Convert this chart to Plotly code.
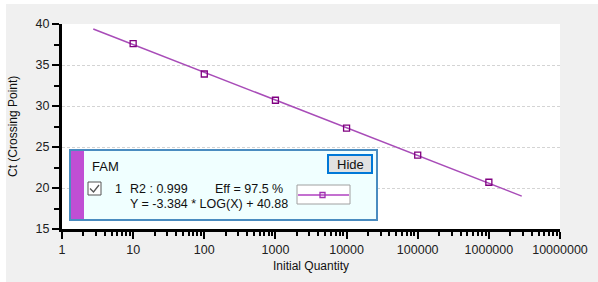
import plotly.graph_objects as go
import math

# ---- data ----
quantity = [10, 100, 1000, 10000, 100000, 1000000]
ct_values = [37.6, 33.9, 30.7, 27.3, 24.0, 20.7]
fit_slope = -3.384
fit_intercept = 40.88
fit_x = [2.75, 2.9e6]
x_tick_vals = [1, 10, 100, 1000, 10000, 100000, 1000000, 10000000]
x_tick_text = ["1", "10", "100", "1000", "10000", "100000", "1000000", "10000000"]
y_tick_vals = [15, 20, 25, 30, 35, 40]
x_title = "Initial Quantity"
y_title = "Ct (Crossing Point)"
legend_dye = "FAM"
legend_index = "1"
legend_r2 = "R2 : 0.999"
legend_eff = "Eff = 97.5 %"
legend_eq = "Y = -3.384 * LOG(X) + 40.88"
button_text = "Hide"

fit_y = [fit_slope * math.log10(v) + fit_intercept for v in fit_x]

W, H = 598, 282
L, R, T, B = 62, 38, 24, 53
PW, PH = W - L - R, H - T - B

def px(x):
    return (x - L) / PW

def py(y):
    return (H - B - y) / PH

FONT = "Liberation Sans"

fig = go.Figure()
fig.add_trace(go.Scatter(x=fit_x, y=fit_y, mode="lines",
                         line=dict(color="#a84cb8", width=1.5),
                         hoverinfo="skip", showlegend=False))
fig.add_trace(go.Scatter(x=quantity, y=ct_values, mode="markers",
                         marker=dict(symbol="square-open", size=6,
                                     color="#800080", line=dict(width=1.3)),
                         showlegend=False))

shapes = []
# white strips around the grey panel
shapes.append(dict(type="rect", xref="paper", yref="paper", x0=px(0), x1=px(W), y0=py(0), y1=py(4),
                   fillcolor="white", line_width=0, layer="below"))
shapes.append(dict(type="rect", xref="paper", yref="paper", x0=px(0), x1=px(6), y0=py(0), y1=py(H),
                   fillcolor="white", line_width=0, layer="below"))
# legend box
shapes.append(dict(type="rect", xref="paper", yref="paper", x0=px(70), x1=px(377), y0=py(150), y1=py(220),
                   fillcolor="#f0ffff", line=dict(color="#4a8cc0", width=2), layer="above"))
shapes.append(dict(type="rect", xref="paper", yref="paper", x0=px(71), x1=px(84), y0=py(151), y1=py(219),
                   fillcolor="#c04ed4", line_width=0, layer="above"))
# hide button
shapes.append(dict(type="rect", xref="paper", yref="paper", x0=px(328), x1=px(372), y0=py(155), y1=py(173),
                   fillcolor="#e1e1e1", line=dict(color="#0078d7", width=2), layer="above"))
# checkbox
shapes.append(dict(type="rect", xref="paper", yref="paper", x0=px(88), x1=px(101), y0=py(182), y1=py(195),
                   fillcolor="white", line=dict(color="#555555", width=1), layer="above"))
shapes.append(dict(type="path", xref="paper", yref="paper",
                   path=f"M {px(90)} {py(188.5)} L {px(93.5)} {py(192)} L {px(99)} {py(185)}",
                   line=dict(color="#555555", width=1.3), layer="above"))
# line sample box
shapes.append(dict(type="rect", xref="paper", yref="paper", x0=px(297), x1=px(350), y0=py(185), y1=py(204),
                   fillcolor="white", line=dict(color="#a0a0a0", width=1), layer="above"))
shapes.append(dict(type="line", xref="paper", yref="paper", x0=px(298), x1=px(349), y0=py(195), y1=py(195),
                   line=dict(color="#b040c0", width=1.3), layer="above"))
shapes.append(dict(type="rect", xref="paper", yref="paper", x0=px(320), x1=px(325), y0=py(192.5), y1=py(197.5),
                   fillcolor="rgba(0,0,0,0)", line=dict(color="#a030b0", width=1.3), layer="above"))

def ann(x, y, text, size=12.5, xanchor="left", angle=0):
    return dict(xref="paper", yref="paper", x=px(x), y=py(y), text=text, showarrow=False,
                xanchor=xanchor, yanchor="middle", textangle=angle, borderpad=0,
                font=dict(family=FONT, size=size, color="#101010"))

annotations = [
    ann(91, 166, legend_dye, size=13),
    ann(123, 189, legend_index, xanchor="right"),
    ann(129, 189, legend_r2),
    ann(214, 189, legend_eff),
    ann(129, 204, legend_eq),
    ann(350, 164, button_text, size=13, xanchor="center"),
    ann(311, 266, x_title, size=12, xanchor="center"),
    ann(13, 127, y_title, size=12, xanchor="center", angle=-90),
]

fig.update_layout(
    width=W, height=H,
    margin=dict(l=L, r=R, t=T, b=B, pad=0),
    paper_bgcolor="#f0f0f0", plot_bgcolor="white",
    font=dict(family=FONT, size=12.5, color="#202020"),
    shapes=shapes, annotations=annotations,
    xaxis=dict(type="log", range=[0, 7], tickvals=x_tick_vals, ticktext=x_tick_text,
               showgrid=False, zeroline=False, showline=True, linecolor="black", linewidth=3,
               ticks="outside", ticklen=7, tickwidth=2, tickcolor="black",
               minor=dict(ticks="outside", ticklen=4, tickwidth=2, tickcolor="black",
                          dtick="D1", showgrid=False),
               automargin=False),
    yaxis=dict(range=[15, 40], tickvals=y_tick_vals,
               showgrid=True, gridcolor="#d4d4d4", griddash="3px,2px", gridwidth=1,
               zeroline=False, showline=True, linecolor="black", linewidth=3,
               ticks="outside", ticklen=7, tickwidth=2, tickcolor="black",
               minor=dict(ticks="outside", ticklen=5, tickwidth=2, tickcolor="black",
                          dtick=2.5, showgrid=False),
               automargin=False),
)

fig.write_html("out.html", config={"displayModeBar": False},
               post_script="document.body.style.margin='0';")
